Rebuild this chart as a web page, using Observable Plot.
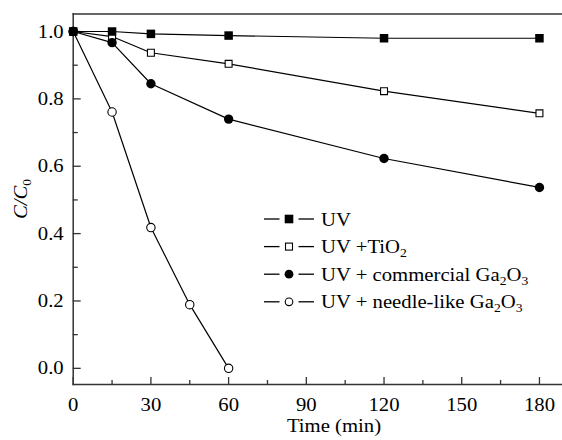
<!DOCTYPE html>
<html><head><meta charset="utf-8">
<script src="https://cdn.jsdelivr.net/npm/d3@7"></script>
<script src="https://cdn.jsdelivr.net/npm/@observablehq/plot@0.6"></script>
<style>body{margin:0;background:#fff}#chart{width:562px;height:440px}</style>
</head><body><div id="chart"></div>
<script>
const time = [0, 15, 30, 60, 120, 180];
const uv = [1.0, 1.0, 0.993, 0.988, 0.980, 0.980];
const tio2 = [1.0, 0.985, 0.937, 0.904, 0.823, 0.757];
const commercial = [1.0, 0.967, 0.845, 0.740, 0.623, 0.537];
const needleTime = [0, 15, 30, 45, 60];
const needle = [1.0, 0.761, 0.418, 0.189, 0.0];
const seriesNames = ["UV", "UV +TiO", "UV + commercial Ga", "UV + needle-like Ga"];
const xMajor = [0, 30, 60, 90, 120, 150, 180];
const xMinor = [15, 45, 75, 105, 135, 165];
const yMajor = [0.0, 0.2, 0.4, 0.6, 0.8, 1.0];
const yMinor = [0.1, 0.3, 0.5, 0.7, 0.9];
const xLabel = "Time (min)";

const toRows = (xs, ys) => xs.map((t, i) => ({t, c: ys[i]}));
const dUV = toRows(time, uv), dTi = toRows(time, tio2), dCo = toRows(time, commercial), dNe = toRows(needleTime, needle);

const W = 562, H = 440, mL = 72.7, mR = 0, mT = 13.5, mB = 56;
const fw = W - mL - mR, fh = H - mT - mB;
const font = "'Liberation Serif', 'Times New Roman', serif";
const axisColor = "#333";
const stretch = 1.09;
const fs = 19, subFs = 12.5;

const svg = Plot.plot({
  width: W, height: H, marginLeft: mL, marginRight: mR, marginTop: mT, marginBottom: mB,
  x: {domain: [0, 188.9]},
  y: {domain: [-0.048, 1.052]},
  style: {fontFamily: font, fontSize: fs + "px", color: "#000", background: "white"},
  marks: [
    Plot.frame({anchor: "top", stroke: axisColor, strokeWidth: 1.5}),
    Plot.frame({anchor: "left", stroke: axisColor, strokeWidth: 1.5}),
    Plot.frame({anchor: "bottom", stroke: axisColor, strokeWidth: 1.5}),
    Plot.tickX(xMajor, {x: d => d, insetTop: fh - 7, stroke: axisColor, strokeWidth: 1.3}),
    Plot.tickX(xMinor, {x: d => d, insetTop: fh - 4, stroke: axisColor, strokeWidth: 1.3}),
    Plot.tickY(yMajor, {y: d => d, insetRight: fw - 8, stroke: axisColor, strokeWidth: 1.3}),
    Plot.tickY(yMinor, {y: d => d, insetRight: fw - 5, stroke: axisColor, strokeWidth: 1.3}),
    Plot.axisX(xMajor, {tickSize: 0, tickPadding: 13, label: null, fontSize: fs}),
    Plot.axisY(yMajor, {tickSize: 0, tickPadding: 9.5, label: null, fontSize: fs, tickFormat: d3.format(".1f")}),
    Plot.line(dNe, {x: "t", y: "c", stroke: "#000", strokeWidth: 1.2}),
    Plot.line(dCo, {x: "t", y: "c", stroke: "#000", strokeWidth: 1.2}),
    Plot.line(dTi, {x: "t", y: "c", stroke: "#000", strokeWidth: 1.2}),
    Plot.line(dUV, {x: "t", y: "c", stroke: "#000", strokeWidth: 1.2}),
    Plot.dot(dNe, {x: "t", y: "c", r: 4.2, fill: "white", stroke: "#000", strokeWidth: 1.1}),
    Plot.dot(dTi, {x: "t", y: "c", symbol: "square", r: 3.9, fill: "white", stroke: "#000", strokeWidth: 1.1}),
    Plot.dot(dCo, {x: "t", y: "c", r: 4.7, fill: "#000", stroke: "none"}),
    Plot.dot(dUV, {x: "t", y: "c", symbol: "square", r: 4.8, fill: "#000", stroke: "none"})
  ]
});
document.getElementById("chart").appendChild(svg);

const s = d3.select(svg);
// axis titles
s.append("text").attr("x", 334).attr("y", 432).attr("text-anchor", "middle").text(xLabel);
const yl = s.append("text").attr("transform", "translate(27,199) rotate(-90)").attr("text-anchor", "middle")
  .style("font-style", "italic");
yl.append("tspan").text("C/C");
yl.append("tspan").style("font-size", subFs + "px").attr("dy", 4).style("font-style", "normal").text("0");

// legend
const legendRows = [
  {name: seriesNames[0], sub: [], kind: "fsq"},
  {name: seriesNames[1], sub: ["2"], kind: "osq"},
  {name: seriesNames[2], sub: ["2", "O", "3"], kind: "fci"},
  {name: seriesNames[3], sub: ["2", "O", "3"], kind: "oci"}
];
const lg = s.append("g");
legendRows.forEach((row, i) => {
  const y = 219 + i * 27.6;
  lg.append("line").attr("x1", 264).attr("x2", 279.5).attr("y1", y).attr("y2", y).attr("stroke", "#000").attr("stroke-width", 1.3);
  lg.append("line").attr("x1", 298.5).attr("x2", 314).attr("y1", y).attr("y2", y).attr("stroke", "#000").attr("stroke-width", 1.3);
  const cx = 289;
  if (row.kind === "fsq") lg.append("rect").attr("x", cx - 4.3).attr("y", y - 4.3).attr("width", 8.6).attr("height", 8.6).attr("fill", "#000");
  if (row.kind === "osq") lg.append("rect").attr("x", cx - 3.5).attr("y", y - 3.5).attr("width", 7).attr("height", 7).attr("fill", "#fff").attr("stroke", "#000").attr("stroke-width", 1.1);
  if (row.kind === "fci") lg.append("circle").attr("cx", cx).attr("cy", y).attr("r", 4.4).attr("fill", "#000");
  if (row.kind === "oci") lg.append("circle").attr("cx", cx).attr("cy", y).attr("r", 3.8).attr("fill", "#fff").attr("stroke", "#000").attr("stroke-width", 1.1);
  const t = lg.append("text").attr("x", 321).attr("y", y + 6.5).attr("text-anchor", "start");
  t.append("tspan").text(row.name);
  if (row.sub.length === 1) {
    t.append("tspan").style("font-size", subFs + "px").attr("dy", 4).text(row.sub[0]);
  } else if (row.sub.length === 3) {
    t.append("tspan").style("font-size", subFs + "px").attr("dy", 4).text(row.sub[0]);
    t.append("tspan").attr("dy", -4).text(row.sub[1]);
    t.append("tspan").style("font-size", subFs + "px").attr("dy", 4).text(row.sub[2]);
  }
});

// unify font and apply the horizontal stretch seen in the reference
s.selectAll("text").each(function () {
  this.style.fontFamily = font;
  this.style.fontSize = fs + "px";
  this.style.fontWeight = "normal";
  this.style.fill = "#000";
  const L = this.getComputedTextLength();
  if (L > 0) {
    this.setAttribute("textLength", (L * stretch).toFixed(2));
    this.setAttribute("lengthAdjust", "spacingAndGlyphs");
  }
});
</script>
</body></html>
